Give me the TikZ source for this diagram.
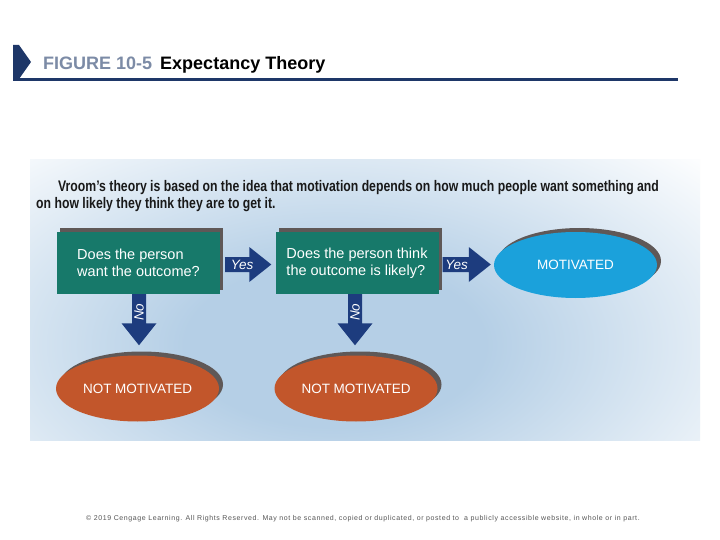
\documentclass[tikz,border=0pt]{standalone}
\usepackage{fontspec}
\setmainfont{Liberation Sans}
\newfontfamily\condfont[FakeStretch=0.8]{Liberation Sans}
\newfontfamily\footfont[LetterSpace=8.5]{Liberation Sans}
\usetikzlibrary{shapes.geometric,shadows,calc}
\definecolor{tealc}{HTML}{17796A}
\definecolor{navyc}{HTML}{1D3C7E}
\definecolor{bluec}{HTML}{1BA1DB}
\definecolor{orangec}{HTML}{C2562B}
\definecolor{shadc}{HTML}{5F5857}
\definecolor{glowc}{HTML}{B5CFE6}
\definecolor{hdrc}{HTML}{1E3768}
\definecolor{figc}{HTML}{7C8BA6}
\definecolor{footc}{HTML}{555555}
\pgfdeclareradialshading{glowshade}{\pgfpoint{0bp}{0bp}}{color(0bp)=(glowc); color(10bp)=(glowc); color(34bp)=(white); color(50bp)=(white)}
\begin{document}
\begin{tikzpicture}[x=1pt,y=-1pt,
  qbox/.style={rectangle, fill=tealc, minimum width=163pt, minimum height=62pt, inner sep=0pt, align=left, text=white, font=\fontsize{14.5}{17}\selectfont, general shadow={fill=shadc, shadow xshift=3pt, shadow yshift=4pt}},
  oval/.style={ellipse, minimum width=163pt, minimum height=66pt, inner sep=0pt, text=white, font=\fontsize{13.5}{16}\selectfont, general shadow={fill=shadc, shadow xshift=4pt, shadow yshift=4pt}},
  lbl/.style={inner sep=0pt, text=white, font=\itshape\fontsize{13.5}{16}\selectfont},
  intro/.style={anchor=base west, inner sep=0pt, text=black!90, font=\condfont\bfseries\fontsize{15.3}{18}\selectfont},
  blk/.style={fill=navyc}
]
\useasboundingbox (0,0) rectangle (720,540);
\fill[white] (0,0) rectangle (720,540);
% background glow
\begin{scope}
\clip (30,160) rectangle (700,440);
\shade[shading=glowshade] (-40,140) rectangle (710,550);
\end{scope}
% header
\fill[hdrc] (13,45) -- (19,45) -- (31,62) -- (19,79) -- (13,79) -- cycle;
\draw[hdrc, line width=3pt] (13,79.5) -- (678,79.5);
\node[anchor=base west, inner sep=0pt, font=\bfseries\fontsize{18}{21}\selectfont] (title) at (43,70) {\textcolor{figc}{FIGURE 10-5}\hspace{8pt}Expectancy Theory};
% intro
\node[intro] (intro1) at (58,192) {Vroom’s theory is based on the idea that motivation depends on how much people want something and};
\node[intro] (intro2) at (36,209) {on how likely they think they are to get it.};
% nodes
\node[qbox] (q1) at (138.5,263) {Does the person\\want the outcome?};
\node[qbox] (q2) at (357,263) {Does the person think\\the outcome is likely?};
\node[oval, fill=bluec] (mot) at (575.5,265) {MOTIVATED};
\node[oval, fill=orangec] (nm1) at (137.5,388.5) {NOT MOTIVATED};
\node[oval, fill=orangec] (nm2) at (356,388.5) {NOT MOTIVATED};
% yes arrows
\fill[blk] let \p1=($(q1.east)+(5,1.5)$), \p2=($(q2.west)+(-4,1.5)$) in
  (\x1,\y1+7.5pt) -- (\x2-22pt,\y1+7.5pt) -- (\x2-22pt,\y1+17.5pt) -- (\x2,\y1) -- (\x2-22pt,\y1-17.5pt) -- (\x2-22pt,\y1-7.5pt) -- (\x1,\y1-7.5pt) -- cycle;
\fill[blk] let \p1=($(q2.east)+(4,1.5)$), \p2=($(mot.west)+(-3,0)$) in
  (\x1,\y1+7.5pt) -- (\x2-22pt,\y1+7.5pt) -- (\x2-22pt,\y1+17.5pt) -- (\x2,\y1) -- (\x2-22pt,\y1-17.5pt) -- (\x2-22pt,\y1-7.5pt) -- (\x1,\y1-7.5pt) -- cycle;
\node[lbl] (yes1) at ($(q1.east)+(22,1.5)$) {Yes};
\node[lbl] (yes2) at ($(q2.east)+(18,1.5)$) {Yes};
% no arrows
\fill[blk] let \p1=($(q1.south)+(0.5,0)$), \p2=($(nm1.north)+(0,-10)$) in
  (\x1-7pt,\y1) -- (\x1-7pt,\y2+22pt) -- (\x1-17.5pt,\y2+22pt) -- (\x1,\y2) -- (\x1+17.5pt,\y2+22pt) -- (\x1+7pt,\y2+22pt) -- (\x1+7pt,\y1) -- cycle;
\fill[blk] let \p1=($(q2.south)+(-2,0)$), \p2=($(nm2.north)+(0,-10)$) in
  (\x1-7pt,\y1) -- (\x1-7pt,\y2+22pt) -- (\x1-17.5pt,\y2+22pt) -- (\x1,\y2) -- (\x1+17.5pt,\y2+22pt) -- (\x1+7pt,\y2+22pt) -- (\x1+7pt,\y1) -- cycle;
\node[lbl, rotate=90] (no1) at ($(q1.south)+(0.5,18)$) {No};
\node[lbl, rotate=90] (no2) at ($(q2.south)+(-2,18)$) {No};
% footer
\node[inner sep=0pt, text=footc, font=\footfont\fontsize{7}{8}\selectfont] (foot) at (363,519) {© 2019 Cengage Learning. All Rights Reserved. May not be scanned, copied or duplicated, or posted to \ a publicly accessible website, in whole or in part.};
\end{tikzpicture}
\end{document}
